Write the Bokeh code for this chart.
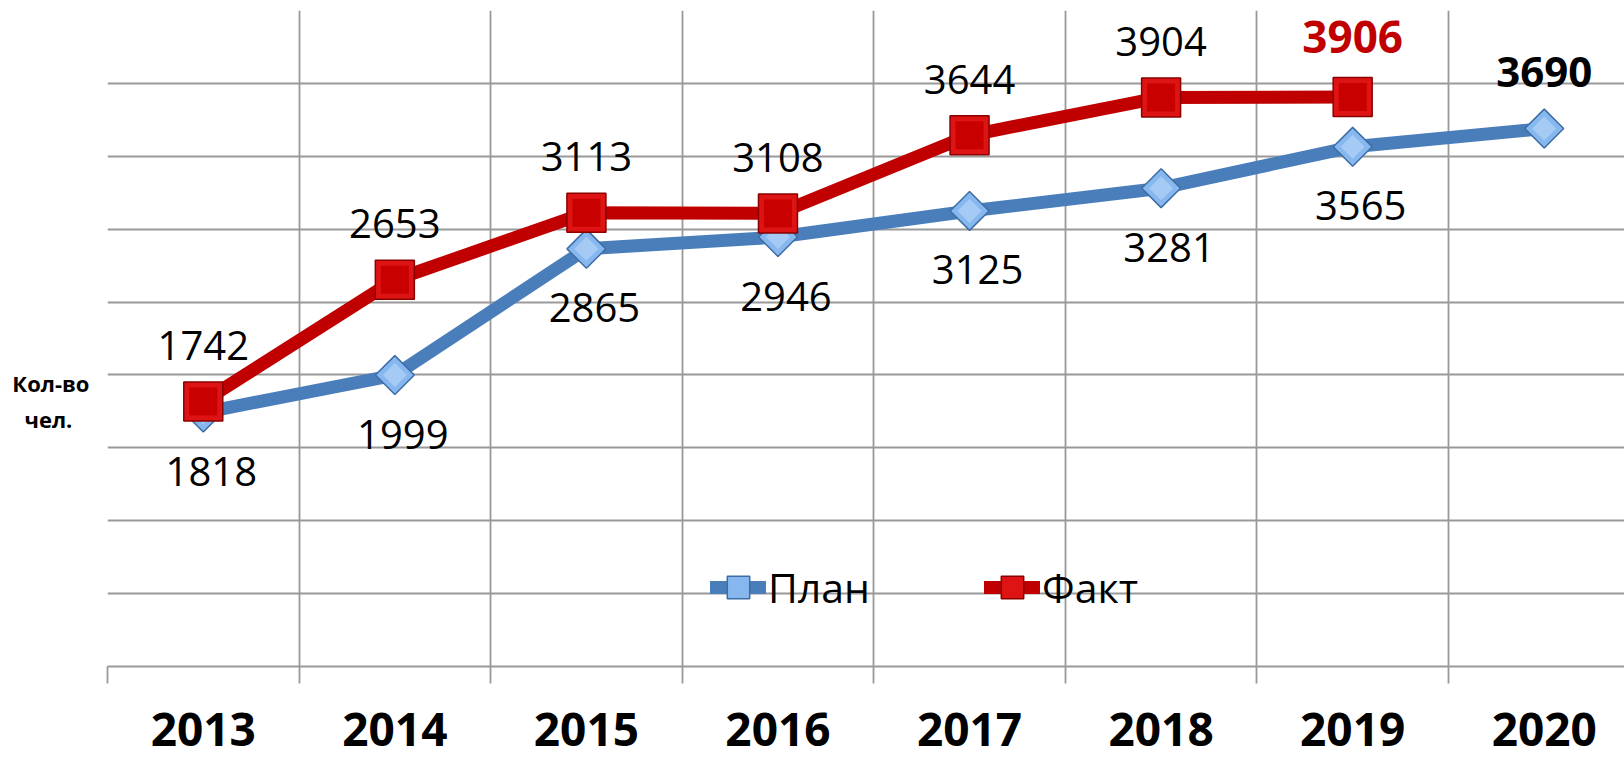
import numpy as np
from bokeh.plotting import figure
from bokeh.models import Legend, LegendItem, FixedTicker, Range1d
from bokeh.core.properties import value
from bokeh.embed import file_html
from bokeh.resources import INLINE

# ---- data ----
years = ["2013", "2014", "2015", "2016", "2017", "2018", "2019", "2020"]
plan_values = [1742, 1999, 2865, 2946, 3125, 3281, 3565, 3690]
fact_values = [1818, 2653, 3113, 3108, 3644, 3904, 3906]
# data labels as printed on the chart
plan_labels = ["1818", "1999", "2865", "2946", "3125", "3281", "3565", "3690"]
fact_labels = ["1742", "2653", "3113", "3108", "3644", "3904", "3906"]
y_ticks = list(range(0, 4501, 500))
y_title = "Кол-во\nчел.\u00a0\u00a0\u00a0"

xs_plan = list(range(len(plan_values)))
xs_fact = list(range(len(fact_values)))
boundaries = [i - 0.5 for i in range(len(years) + 1)]

FONT = "Open Sans"
GRID = "#999999"
BLUE = "#4A7EBB"
RED = "#C00000"

p = figure(width=1624, height=760, output_backend="svg", toolbar_location=None,
           x_range=Range1d(-0.5, 7.419), y_range=Range1d(0, 4500),
           min_border_left=107, min_border_right=0, min_border_top=10, min_border_bottom=94)
p.outline_line_color = None
p.background_fill_color = "white"
p.border_fill_color = "white"

# grid
p.ygrid.ticker = FixedTicker(ticks=y_ticks)
p.xgrid.ticker = FixedTicker(ticks=boundaries)
p.grid.grid_line_color = GRID
p.grid.grid_line_width = 1.8

# y axis: only the horizontal title, placed as a single label
ya = p.yaxis[0]
title_pos = 1819
ya.ticker = FixedTicker(ticks=[title_pos])
ya.major_label_overrides = {title_pos: y_title}
ya.major_tick_line_color = None
ya.major_tick_out = 0
ya.major_tick_in = 0
ya.minor_tick_line_color = None
ya.axis_line_color = None
ya.major_label_text_font = FONT
ya.major_label_text_font_style = "bold"
ya.major_label_text_font_size = "22px"
ya.major_label_text_color = "black"
ya.major_label_standoff = 18

# x axis
xa = p.xaxis[0]
xa.ticker = FixedTicker(ticks=xs_plan, minor_ticks=boundaries)
xa.major_label_overrides = {i: y for i, y in enumerate(years)}
xa.major_tick_line_color = None
xa.major_tick_out = 0
xa.major_tick_in = 0
xa.minor_tick_line_color = GRID
xa.minor_tick_line_width = 1.8
xa.minor_tick_out = 17
xa.minor_tick_in = 0
xa.axis_line_color = GRID
xa.axis_line_width = 1.8
xa.major_label_text_font = FONT
xa.major_label_text_font_style = "bold"
xa.major_label_text_font_size = "46px"
xa.major_label_text_color = "black"
xa.major_label_standoff = 29

# series
plan_line = p.line(xs_plan, plan_values, line_color=BLUE, line_width=13,
                   line_join="round", line_cap="round")
plan_mk = p.scatter(xs_plan, plan_values, marker="square", angle=np.pi / 4, size=27.5,
                    fill_color="#86B7EE", line_color="#3D6DA3", line_width=1.5)
p.scatter(xs_plan, plan_values, marker="square", angle=np.pi / 4, size=17,
          fill_color="#A5CBF5", line_color=None)
fact_line = p.line(xs_fact, fact_values, line_color=RED, line_width=13,
                   line_join="round", line_cap="round")
fact_mk = p.scatter(xs_fact, fact_values, marker="square", size=39,
                    fill_color="#DE1414", line_color="#8A0000", line_width=1.5)
p.scatter(xs_fact, fact_values, marker="square", size=28,
          fill_color="#C80000", line_color=None)

# data labels
p.text(xs_fact[:-1], fact_values[:-1], text=fact_labels[:-1], text_font=value(FONT),
       text_font_size="40px", text_align="center", text_baseline="middle",
       text_color="black", y_offset=-56)
p.text(xs_fact[-1:], fact_values[-1:], text=fact_labels[-1:], text_font=value(FONT),
       text_font_size="44px", text_font_style="bold", text_align="center",
       text_baseline="middle", text_color=RED, y_offset=-60)
p.text(xs_plan[:-1], plan_values[:-1], text=plan_labels[:-1], text_font=value(FONT),
       text_font_size="40px", text_align="center", text_baseline="middle",
       text_color="black", x_offset=8, y_offset=59)
p.text(xs_plan[-1:], plan_values[-1:], text=plan_labels[-1:], text_font=value(FONT),
       text_font_size="42px", text_font_style="bold", text_align="center",
       text_baseline="middle", text_color="black", y_offset=-57)

legend = Legend(items=[LegendItem(label="План", renderers=[plan_line, plan_mk]),
                       LegendItem(label="Факт", renderers=[fact_line, fact_mk])],
                orientation="horizontal", location=(603, 51),
                background_fill_alpha=0, border_line_color=None,
                label_text_font=FONT, label_text_font_size="41px",
                label_text_color="black",
                glyph_width=56, glyph_height=56, label_standoff=2,
                spacing=114, padding=0, margin=0)
p.add_layout(legend)

open("out.html", "w").write(file_html(p, INLINE))
